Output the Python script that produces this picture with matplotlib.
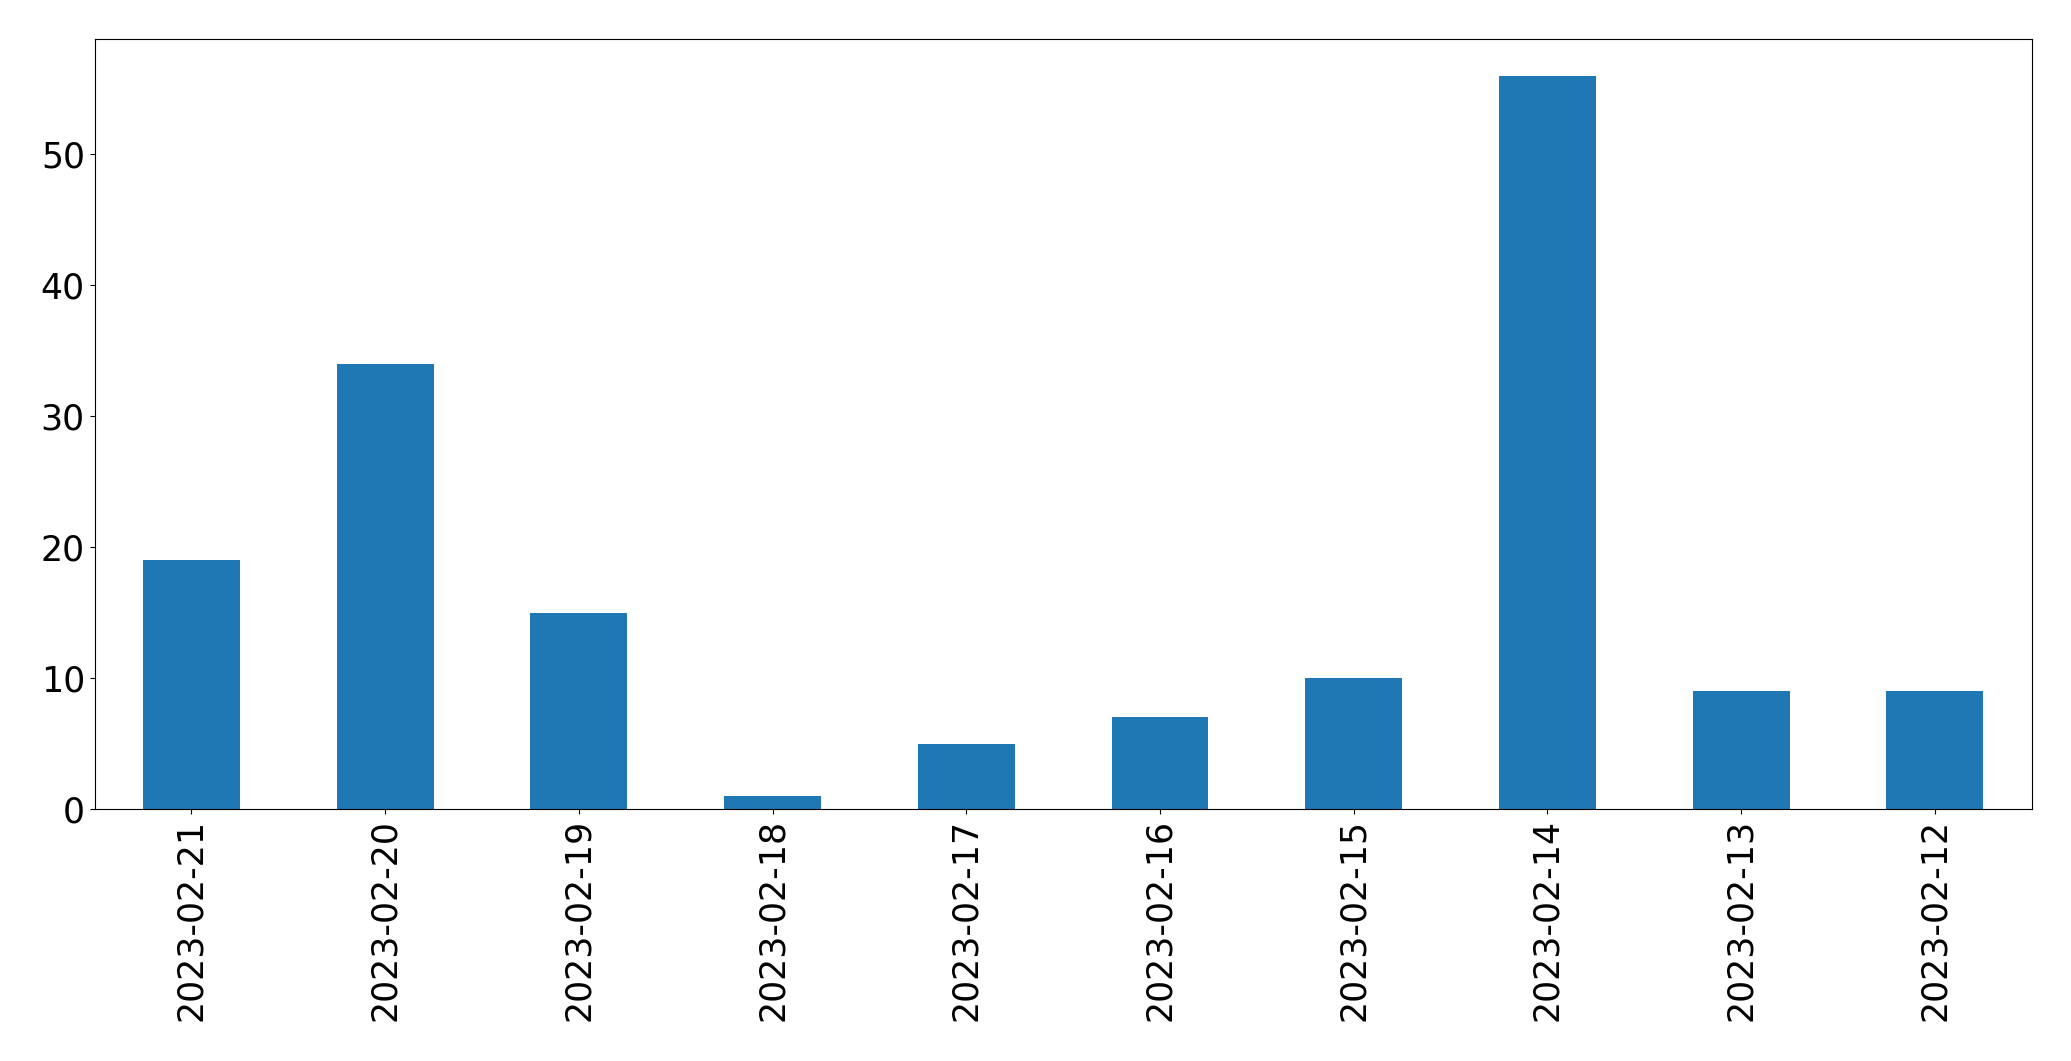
import matplotlib
matplotlib.use("Agg")
import matplotlib.pyplot as plt

dates = ["2023-02-21", "2023-02-20", "2023-02-19", "2023-02-18", "2023-02-17",
         "2023-02-16", "2023-02-15", "2023-02-14", "2023-02-13", "2023-02-12"]
counts = [19, 34, 15, 1, 5, 7, 10, 56, 9, 9]

positions = list(range(len(dates)))

fig = plt.figure(figsize=(20.71, 10.61), dpi=100)
ax = fig.add_subplot(111)
fig.subplots_adjust(left=0.0457, right=0.981, top=0.963, bottom=0.2375)

ax.bar(positions, counts, width=0.5, color="#1f77b4")
ax.set_xlim(-0.5, len(dates) - 0.5)
ax.set_xticks(positions)
ax.set_xticklabels(dates, rotation=90, fontsize=25)
ax.tick_params(axis="y", labelsize=25)

fig.savefig("out.png", dpi=100)
